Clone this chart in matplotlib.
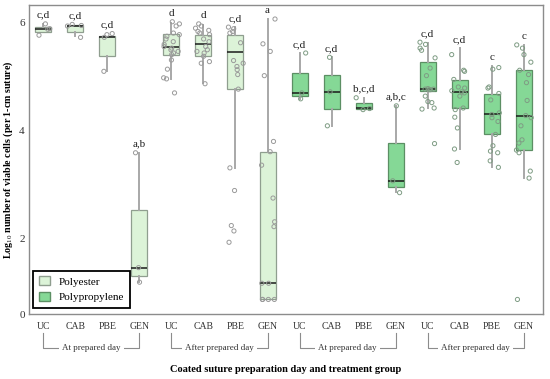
import matplotlib
matplotlib.use("Agg")
import matplotlib.pyplot as plt
import numpy as np
from matplotlib.patches import Patch
import matplotlib.transforms as mtransforms

plt.rcParams['font.family'] = ['Liberation Serif', 'DejaVu Serif']
plt.rcParams['mathtext.fontset'] = 'custom'
plt.rcParams['mathtext.rm'] = 'Liberation Serif'
plt.rcParams['mathtext.bf'] = 'Liberation Serif:bold'

# groups along the x axis
treatments = ['UC', 'CAB', 'PBE', 'GEN'] * 4
days = ['At prepared day', 'After prepared day', 'At prepared day', 'After prepared day']
materials = ['Polyester'] * 8 + ['Polypropylene'] * 8
letters = ['c,d', 'c,d', 'c,d', 'a,b', 'd', 'd', 'c,d', 'a',
           'c,d', 'c,d', 'b,c,d', 'a,b,c', 'c,d', 'c,d', 'c', 'c']

# box statistics (log10 cells)
q1 = [5.83, 5.83, 5.39, 1.31, 5.41, 5.38, 4.77, 0.87,
      4.64, 4.40, 4.40, 2.96, 4.73, 4.42, 3.93, 3.64]
med = [5.88, 5.94, 5.73, 1.46, 5.55, 5.61, 5.46, 1.17,
       4.70, 4.72, 4.42, 3.07, 4.77, 4.72, 4.31, 4.28]
q3 = [5.93, 5.96, 5.76, 2.52, 5.80, 5.77, 5.78, 3.61,
      5.07, 5.04, 4.51, 3.77, 5.27, 4.94, 4.68, 5.12]
whislo = [5.83, 5.76, 5.10, 1.19, 4.96, 4.88, 3.31, 0.87,
          4.59, 4.09, 4.40, 2.86, 4.42, 3.66, 3.33, 3.12]
whishi = [5.97, 5.96, 5.76, 3.59, 5.99, 5.96, 5.92, 6.07,
          5.44, 5.36, 4.61, 4.46, 5.62, 5.53, 5.19, 5.59]

# individual observations
points = [
    [5.98, 5.89, 5.88, 5.77],
    [5.97, 5.95, 5.94, 5.73],
    [5.80, 5.78, 5.73, 5.10],
    [3.59, 1.46, 1.19],
    [6.02, 5.98, 5.94, 5.81, 5.78, 5.75, 5.70, 5.65, 5.60, 5.56, 5.53, 5.50,
     5.47, 5.44, 5.41, 5.31, 5.14, 4.98, 4.96, 4.70],
    [5.98, 5.94, 5.90, 5.86, 5.84, 5.81, 5.78, 5.70, 5.65, 5.56, 5.50, 5.47,
     5.44, 5.38, 5.28, 5.25, 4.87],
    [5.92, 5.89, 5.84, 5.81, 5.63, 5.30, 5.25, 5.19, 5.13, 5.04, 4.77,
     3.31, 2.89, 2.24, 2.14, 1.93],
    [6.07, 5.61, 5.47, 5.02, 3.80, 3.61, 3.36, 2.75, 2.31, 2.22,
     1.17, 1.17, 0.87, 0.87, 0.87, 0.87],
    [5.44, 4.70, 4.59],
    [5.36, 4.72, 4.09],
    [4.61, 4.41, 4.39],
    [4.46, 3.07, 2.85],
    [5.64, 5.60, 5.53, 5.49, 5.35, 5.16, 5.02, 4.78, 4.77, 4.77, 4.76, 4.76,
     4.64, 4.54, 4.52, 4.42, 4.40, 3.76],
    [5.41, 5.12, 5.10, 4.95, 4.81, 4.79, 4.74, 4.72, 4.70, 4.64, 4.42, 4.39,
     4.25, 4.05, 3.66, 3.41],
    [5.17, 5.14, 4.81, 4.79, 4.69, 4.57, 4.33, 4.30, 4.24, 4.17, 3.93,
     3.72, 3.62, 3.59, 3.44, 3.32],
    [5.59, 5.53, 5.41, 5.27, 5.12, 5.04, 4.89, 4.56, 4.28, 4.24, 4.09,
     3.83, 3.77, 3.64, 3.59, 3.25, 3.12, 0.87],
]

ytick_vals = [0.6, 2, 4, 6]
ytick_labels = ['0', '2', '4', '6']

styles = {
    'Polyester': dict(face='#dcf3d8', edge='#8f9e8f', pt='#9a9a9a'),
    'Polypropylene': dict(face='#85d896', edge='#5c8f64', pt='#7f9c84'),
}

fig = plt.figure(figsize=(5.5, 3.79), dpi=100)
ax = fig.add_axes([0.0527, 0.1715, 0.9343, 0.8153])

pos = np.arange(len(treatments))
rng = np.random.default_rng(7)

for mat, st in styles.items():
    idx = [i for i, m in enumerate(materials) if m == mat]
    stats = [dict(q1=q1[i], med=med[i], q3=q3[i], whislo=whislo[i], whishi=whishi[i])
             for i in idx]
    ax.bxp(stats, positions=pos[idx], widths=0.5, patch_artist=True,
           showfliers=False, showcaps=False,
           boxprops=dict(facecolor=st['face'], edgecolor=st['edge'], linewidth=0.9),
           whiskerprops=dict(color='#a8a8a8', linewidth=1.4),
           medianprops=dict(color='#1a1a1a', linewidth=1.1))
    for i in idx:
        y = np.array(points[i])
        x = pos[i] + rng.uniform(-0.25, 0.25, len(y))
        ax.scatter(x, y, s=9, facecolors='none', edgecolors=st['pt'],
                   linewidths=0.7, zorder=4)

for i, lab in enumerate(letters):
    top = max(whishi[i], max(points[i]))
    ax.annotate(lab, xy=(pos[i], top), xytext=(0, 3), textcoords='offset points',
                ha='center', va='bottom', fontsize=8, color='#222222')

ax.set_xlim(-0.45, 15.6)
ax.set_ylim(0.6, 6.33)
ax.set_yticks(ytick_vals)
ax.set_yticklabels(ytick_labels, fontsize=8)
ax.set_xticks(pos)
ax.set_xticklabels(treatments, fontsize=7)
ax.tick_params(axis='x', length=0, pad=6, colors='#333333')
ax.tick_params(axis='y', length=0, pad=3, colors='#333333')
for s in ax.spines.values():
    s.set_color('#8c8c8c')
    s.set_linewidth(1.0)

# day brackets under the tick labels
trans = mtransforms.blended_transform_factory(ax.transData, ax.transAxes)
for k, day in enumerate(days):
    a, b = pos[4 * k], pos[4 * k + 3]
    ax.plot([a, a, b, b], [-0.062, -0.110, -0.110, -0.062], transform=trans,
            color='#8c8c8c', linewidth=0.8, clip_on=False)
    ax.text((a + b) / 2, -0.110, day, transform=trans, ha='center', va='center',
            fontsize=6.5, color='#333333',
            bbox=dict(facecolor='white', edgecolor='none', pad=2.5))

ax.set_xlabel('Coated suture preparation day and treatment group',
              fontsize=7.5, fontweight='bold')
ax.xaxis.set_label_coords(0.5, -0.181)
ax.xaxis.label.set_va('center')
ax.set_ylabel('Log$_{10}$ number of viable cells (per 1-cm suture)',
              fontsize=7.2, fontweight='bold')
ax.yaxis.set_label_coords(-0.041, 0.5)
ax.yaxis.label.set_va('center')

handles = [Patch(facecolor=styles[m]['face'], edgecolor=styles[m]['edge'], label=m)
           for m in styles]
leg = ax.legend(handles=handles, loc='lower left', bbox_to_anchor=(0.008, 0.02),
                borderaxespad=0, fontsize=8, fancybox=False, framealpha=1,
                handlelength=1.0, handleheight=0.8, borderpad=0.5, labelspacing=0.5)
leg.get_frame().set_edgecolor('black')
leg.get_frame().set_linewidth(1.3)

fig.savefig('out.png', dpi=100)
